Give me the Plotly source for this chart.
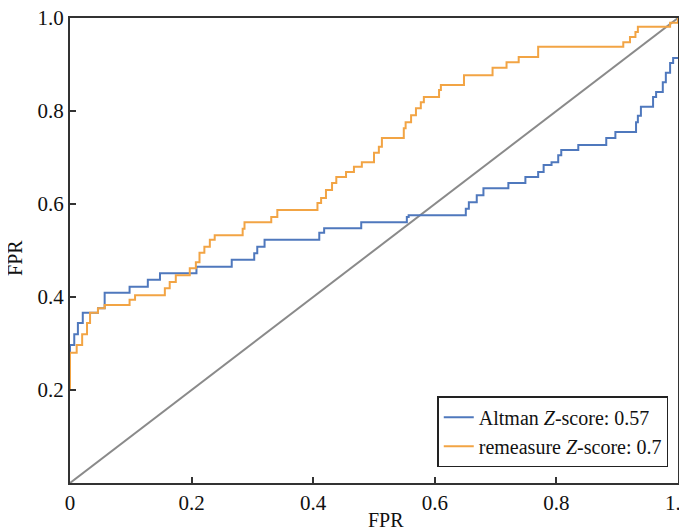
import plotly.graph_objects as go

# Altman Z-score ROC (step vertices: fpr where the jump happens, new tpr)
altman_fpr = [0.0, 0.0, 0.007, 0.013, 0.021, 0.046, 0.057, 0.098, 0.128, 0.148,
              0.208, 0.266, 0.303, 0.308, 0.320, 0.410, 0.418, 0.479, 0.554, 0.557,
              0.651, 0.656, 0.669, 0.680, 0.721, 0.749, 0.770, 0.779, 0.792, 0.803,
              0.808, 0.836, 0.882, 0.897, 0.931, 0.934, 0.939, 0.959, 0.964, 0.975,
              0.980, 0.987, 0.992, 1.0]
altman_tpr = [0.20, 0.297, 0.32, 0.344, 0.366, 0.376, 0.409, 0.422, 0.437, 0.451,
              0.465, 0.48, 0.494, 0.508, 0.523, 0.538, 0.548, 0.561, 0.572, 0.576,
              0.59, 0.604, 0.619, 0.634, 0.645, 0.658, 0.669, 0.684, 0.690, 0.705,
              0.716, 0.727, 0.742, 0.755, 0.776, 0.79, 0.809, 0.830, 0.841, 0.862,
              0.882, 0.903, 0.914, 0.914]

# remeasure Z-score ROC
remeasure_fpr = [0.0, 0.0, 0.011, 0.020, 0.028, 0.033, 0.046, 0.057, 0.098, 0.107,
                 0.156, 0.164, 0.174, 0.197, 0.207, 0.213, 0.221, 0.230, 0.238, 0.284,
                 0.287, 0.331, 0.341, 0.407, 0.413, 0.421, 0.431, 0.438, 0.454, 0.467,
                 0.480, 0.500, 0.508, 0.513, 0.549, 0.552, 0.561, 0.569, 0.577, 0.582,
                 0.607, 0.610, 0.648, 0.695, 0.718, 0.738, 0.770, 0.910, 0.921, 0.930,
                 0.934, 0.987, 1.0]
remeasure_tpr = [0.20, 0.28, 0.297, 0.32, 0.344, 0.366, 0.376, 0.383, 0.394, 0.404,
                 0.419, 0.432, 0.447, 0.462, 0.475, 0.495, 0.508, 0.523, 0.533, 0.547,
                 0.561, 0.572, 0.587, 0.602, 0.613, 0.630, 0.645, 0.658, 0.669, 0.680,
                 0.690, 0.710, 0.723, 0.742, 0.763, 0.776, 0.791, 0.806, 0.819, 0.830,
                 0.845, 0.856, 0.877, 0.893, 0.905, 0.916, 0.938, 0.948, 0.959, 0.970,
                 0.981, 0.99, 1.0]

diag = [0.0, 1.0]

x_ticks = [0, 0.2, 0.4, 0.6, 0.8, 1.0]
x_tick_labels = ["0", "0.2", "0.4", "0.6", "0.8", "1.0"]
y_ticks = [0.2, 0.4, 0.6, 0.8, 1.0]
y_tick_labels = ["0.2", "0.4", "0.6", "0.8", "1.0"]

names = ["Altman <i>Z</i>-score: 0.57", "remeasure <i>Z</i>-score: 0.7"]
x_title = "FPR"
y_title = "FPR"

BLUE = "#4f78bd"
ORANGE = "#f2a444"
FONT = "Liberation Serif"
TXT = "#111111"

fig = go.Figure()
fig.add_trace(go.Scatter(x=diag, y=diag, mode="lines", showlegend=False,
                         line=dict(color="#8a8a8a", width=2), hoverinfo="skip"))
fig.add_trace(go.Scatter(x=altman_fpr, y=altman_tpr, mode="lines", name=names[0],
                         line=dict(color=BLUE, width=2, shape="hv")))
fig.add_trace(go.Scatter(x=remeasure_fpr, y=remeasure_tpr, mode="lines", name=names[1],
                         line=dict(color=ORANGE, width=2, shape="hv")))

axis_common = dict(showgrid=False, zeroline=False, showline=True, linecolor="#333333",
                   linewidth=2, mirror=True, ticks="inside", ticklen=6, tickwidth=1.5,
                   tickcolor="#333333", automargin=False, ticklabeloverflow="allow",
                   tickfont=dict(family=FONT, size=21, color=TXT))

fig.update_layout(
    width=687, height=527,
    # page body has an 8px margin; compensate so the plot sits where the reference has it
    margin=dict(l=62, r=17, t=10, b=52),
    paper_bgcolor="white", plot_bgcolor="white",
    font=dict(family=FONT, color=TXT),
    xaxis=dict(range=[0, 1], tickvals=x_ticks, ticktext=x_tick_labels, **axis_common),
    yaxis=dict(range=[0, 1], tickvals=y_ticks, ticktext=y_tick_labels, **axis_common),
    legend=dict(x=0.984, y=0.034, xanchor="right", yanchor="bottom",
                bgcolor="white", bordercolor="#222222", borderwidth=1.5,
                font=dict(family=FONT, size=20, color=TXT),
                tracegroupgap=0, itemwidth=30),
    annotations=[
        dict(text=x_title, xref="paper", yref="paper", x=0.52, y=-0.08,
             xanchor="center", yanchor="middle", showarrow=False,
             font=dict(family=FONT, size=20, color=TXT)),
        dict(text=y_title, xref="paper", yref="paper", x=-0.0905, y=0.484,
             xanchor="center", yanchor="middle", showarrow=False, textangle=-90,
             font=dict(family=FONT, size=20, color=TXT)),
    ],
    showlegend=True,
)

fig.write_html("out.html")
